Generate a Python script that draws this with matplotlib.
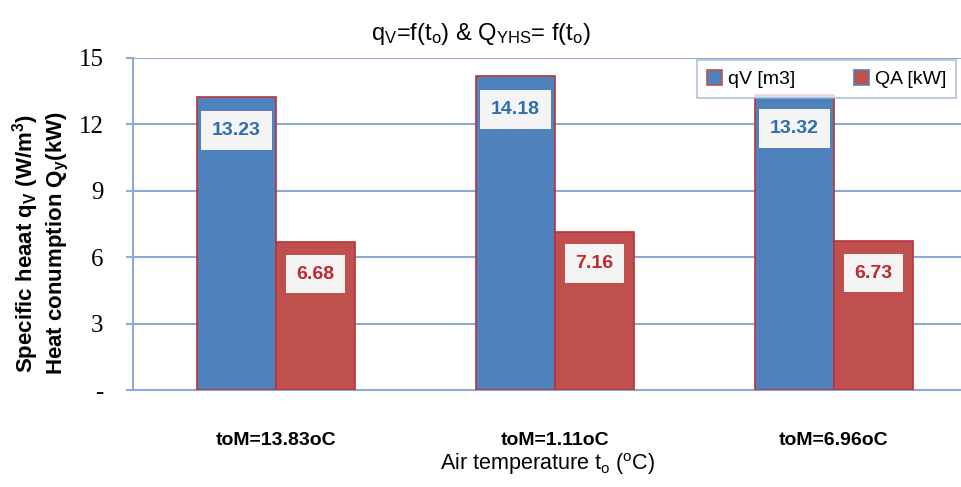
import matplotlib.pyplot as plt
import numpy as np

categories = ["toM=13.83oC", "toM=1.11oC", "toM=6.96oC"]
qv_values = [13.23, 14.18, 13.32]
qa_values = [6.68, 7.16, 6.73]
series_names = ["qV [m3]", "QA [kW]"]
y_ticks = [0, 3, 6, 9, 12, 15]
y_tick_labels = ["-", "3", "6", "9", "12", "15"]

blue = "#4F81BD"
red = "#C0504D"
edge = "#B8323A"
grid_blue = "#8DA9D6"

plt.rcParams["font.family"] = ["Liberation Sans", "DejaVu Sans"]
plt.rcParams["mathtext.default"] = "regular"

fig = plt.figure(figsize=(9.62, 4.87), dpi=100)
ax = fig.add_axes([0.138, 0.199, 0.862, 0.682])

x = np.arange(len(categories))
width = 0.283
bars_qv = ax.bar(x - width / 2, qv_values, width, color=blue, edgecolor=edge,
                 linewidth=1.2, label=series_names[0], zorder=3)
bars_qa = ax.bar(x + width / 2, qa_values, width, color=red, edgecolor=edge,
                 linewidth=1.2, label=series_names[1], zorder=3)

label_box = dict(boxstyle="square,pad=0.55", fc="#F4F4F4", ec="none")
for bar, val in zip(bars_qv, qv_values):
    ax.annotate(f"{val:.2f}", (bar.get_x() + bar.get_width() / 2, val),
                xytext=(0, -24), textcoords="offset points", ha="center", va="center",
                fontsize=14, fontweight="bold", color="#2E6DB0", bbox=label_box, zorder=4)
for bar, val in zip(bars_qa, qa_values):
    ax.annotate(f"{val:.2f}", (bar.get_x() + bar.get_width() / 2, val),
                xytext=(0, -23), textcoords="offset points", ha="center", va="center",
                fontsize=14, fontweight="bold", color="#C0282D", bbox=label_box, zorder=4)

ax.set_xlim(-0.513, 2.459)
ax.set_ylim(0, 15)
ax.set_yticks(y_ticks)
ax.set_yticklabels(y_tick_labels, family="Liberation Serif", fontsize=18)
ax.set_xticks(x)
ax.set_xticklabels(categories, fontsize=14, fontweight="bold")
ax.tick_params(axis="x", length=0, pad=30)
ax.tick_params(axis="y", length=5, color=grid_blue, width=1.5, pad=16)

ax.grid(axis="y", color=grid_blue, linewidth=1.5, zorder=0)
for side in ["top", "right"]:
    ax.spines[side].set_visible(False)
ax.spines["left"].set_color(grid_blue)
ax.spines["left"].set_linewidth(1.5)
ax.spines["bottom"].set_color(grid_blue)
ax.spines["bottom"].set_linewidth(1.5)

ax.set_xlabel("Air temperature t$_o$ ($^o$C)", fontsize=15.5, labelpad=2)
fig.text(0.5, 0.93, "q$_V$=f(t$_o$) & Q$_{YHS}$= f(t$_o$)", ha="center", va="center",
         fontsize=17)
fig.text(0.027, 0.5, "Specific heaat q$_V$ (W/m$^3$)", rotation=90, ha="center",
         va="center", fontsize=16, fontweight="bold")
fig.text(0.060, 0.5, "Heat conumption Q$_y$(kW)", rotation=90, ha="center",
         va="center", fontsize=16, fontweight="bold")

leg = ax.legend(loc="upper right", bbox_to_anchor=(1.0, 1.01), ncol=2, fontsize=14,
                frameon=True, fancybox=False, edgecolor="#9DB3D6", handlelength=0.8,
                handleheight=0.8, handletextpad=0.3, columnspacing=3.0, borderpad=0.5,
                borderaxespad=0.3)
leg.get_frame().set_linewidth(1.2)
leg.legend_handles[0].set_edgecolor(red)
leg.legend_handles[1].set_edgecolor(blue)

fig.savefig("out.png", dpi=100)
